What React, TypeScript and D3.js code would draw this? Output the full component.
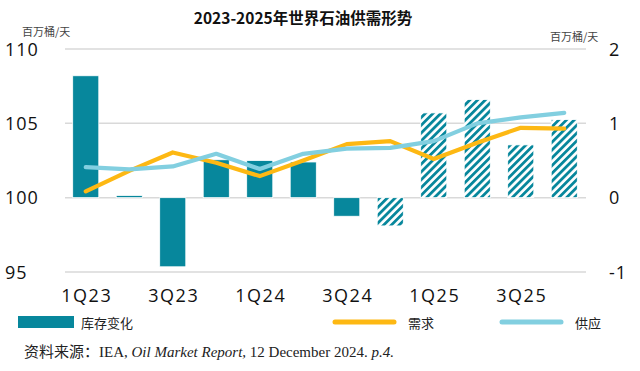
import * as d3 from "d3";

const quarters = ["1Q23", "2Q23", "3Q23", "4Q23", "1Q24", "2Q24", "3Q24", "4Q24", "1Q25", "2Q25", "3Q25", "4Q25"];
// 库存变化 (right axis), from 4Q24 on they are forecasts (hatched)
const stockChange = [1.64, 0.03, -0.93, 0.51, 0.5, 0.48, -0.25, -0.38, 1.14, 1.32, 0.71, 1.05];
const forecastFrom = "4Q24";
// 需求 / 供应 (left axis)
const demand = [100.42, 101.8, 103.04, 102.35, 101.45, 102.5, 103.6, 103.8, 102.6, 103.7, 104.7, 104.65];
const supply = [102.06, 101.9, 102.1, 102.95, 101.93, 102.95, 103.3, 103.35, 103.8, 105.0, 105.4, 105.7];
const leftTicks = [95, 100, 105, 110];
const rightTicks = [-1, 0, 1, 2];
const xLabels = ["1Q23", "3Q23", "1Q24", "3Q24", "1Q25", "3Q25"];

const W = 640;
const H = 371;
const teal = "#07879c";
const orange = "#fdb813";
const lightBlue = "#82cfe0";
const sansFont = "'Open Sans', 'Noto Sans CJK SC', sans-serif";
const cjkFont = "'Noto Sans CJK SC', sans-serif";

export default function App() {
  const x = d3.scaleBand<string>().domain(quarters).range([64, 586]).paddingInner(0.4).paddingOuter(0.2);
  const yL = d3.scaleLinear().domain([95, 110]).range([272, 49]);
  const yR = d3.scaleLinear().domain([-1, 2]).range([272, 49]);
  const cx = (q: string) => (x(q) ?? 0) + x.bandwidth() / 2;

  const line = d3
    .line<number>()
    .x((_, i) => cx(quarters[i]))
    .y((d) => yL(d));

  const fcIdx = quarters.indexOf(forecastFrom);

  return (
    <div style={{ position: "absolute", left: 0, top: 0, width: W, height: H, background: "#fff" }}>
      <svg width={W} height={H} style={{ display: "block" }}>
        <defs>
          <pattern id="hatch" width={5.5} height={5.5} patternUnits="userSpaceOnUse" patternTransform="rotate(-45)">
            <rect width={5.5} height={5.5} fill="#fff" />
            <rect width={5.5} height={2.8} fill={teal} />
          </pattern>
        </defs>

        <text x={303} y={24} textAnchor="middle" fontFamily={cjkFont} fontWeight={700} fontSize={15.5} fill="#111">
          2023-2025年世界石油供需形势
        </text>
        <text x={22} y={36} fontFamily={cjkFont} fontSize={11} fill="#444">
          百万桶/天
        </text>
        <text x={550} y={41} fontFamily={cjkFont} fontSize={11} fill="#444">
          百万桶/天
        </text>

        {leftTicks.map((t) => (
          <g key={t}>
            <line x1={65} x2={586} y1={yL(t)} y2={yL(t)} stroke="#d9d9d9" strokeWidth={1.5} />
            <text x={5} y={yL(t) + 6.5} fontFamily={sansFont} fontSize={18} letterSpacing={1} fill="#111">
              {t}
            </text>
          </g>
        ))}
        {rightTicks.map((t) => (
          <text key={t} x={609} y={yR(t) + 6.5} fontFamily={sansFont} fontSize={18} letterSpacing={1} fill="#111">
            {t}
          </text>
        ))}

        {quarters.map((q, i) => {
          const v = stockChange[i];
          return (
            <rect
              key={q}
              x={x(q)}
              width={x.bandwidth()}
              y={Math.min(yR(v), yR(0))}
              height={Math.abs(yR(v) - yR(0))}
              fill={i >= fcIdx ? "url(#hatch)" : teal}
              stroke="#fff"
              strokeWidth={0.8}
            />
          );
        })}

        <path d={line(demand) ?? ""} fill="none" stroke={orange} strokeWidth={4.2} strokeLinejoin="round" strokeLinecap="round" />
        <path d={line(supply) ?? ""} fill="none" stroke={lightBlue} strokeWidth={4.2} strokeLinejoin="round" strokeLinecap="round" />

        {xLabels.map((q) => (
          <text key={q} x={cx(q) + 1} y={302} textAnchor="middle" fontFamily={sansFont} fontSize={18} letterSpacing={1.5} fill="#111">
            {q}
          </text>
        ))}

        <rect x={18} y={316} width={56} height={12} fill={teal} />
        <text x={81} y={328} fontFamily={cjkFont} fontSize={13} fill="#222">
          库存变化
        </text>
        <line x1={335} x2={394} y1={322} y2={322} stroke={orange} strokeWidth={5} strokeLinecap="round" />
        <text x={408} y={328} fontFamily={cjkFont} fontSize={13} fill="#222">
          需求
        </text>
        <line x1={502} x2={561} y1={322} y2={322} stroke={lightBlue} strokeWidth={5} strokeLinecap="round" />
        <text x={575} y={328} fontFamily={cjkFont} fontSize={13} fill="#222">
          供应
        </text>

        <text x={24} y={357} fontFamily="'Liberation Serif', 'Noto Sans CJK SC', serif" fontSize={15} fill="#222">
          资料来源：IEA, <tspan fontStyle="italic">Oil Market Report,</tspan> 12 December 2024. <tspan fontStyle="italic">p.4.</tspan>
        </text>
      </svg>
    </div>
  );
}
